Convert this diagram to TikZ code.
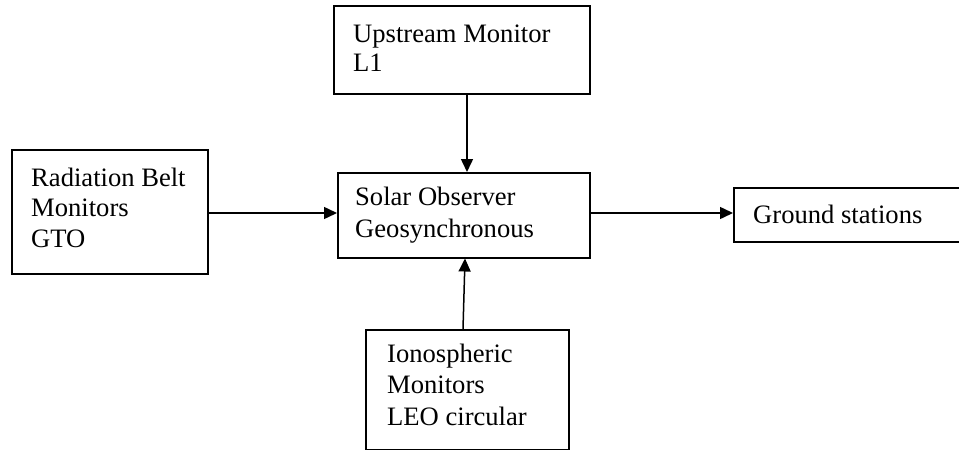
\documentclass[tikz,border=0pt]{standalone}
\usepackage{fontspec}
\setmainfont{Liberation Serif}
\usetikzlibrary{arrows.meta}
\begin{document}
\begin{tikzpicture}[x=1pt,y=-1pt,
  box/.style={draw=black, line width=1.5pt, rectangle, inner sep=0pt, anchor=north west},
  lbl/.style={anchor=base west, inner sep=0pt, font=\fontsize{26.6}{30}\selectfont},
  arr/.style={line width=1.5pt, -{Triangle[length=13pt,width=12pt]}}]
\useasboundingbox (0,0) rectangle (959,450);
% boxes
\node[box, minimum width=256pt, minimum height=88pt] (up) at (333,5) {};
\node[box, minimum width=196pt, minimum height=124pt] (rad) at (11,149) {};
\node[box, minimum width=252pt, minimum height=85pt] (sol) at (337,172) {};
\node[box, minimum width=229pt, minimum height=54pt] (gnd) at (733,187) {};
\node[box, minimum width=203pt, minimum height=120pt] (ion) at (365,329) {};
% texts
\node[lbl] (up1) at (353,42) {Upstream Monitor};
\node[lbl] (up2) at (353,71) {L1};
\node[lbl] (rad1) at (31,186) {Radiation Belt};
\node[lbl] (rad2) at (31,216) {Monitors};
\node[lbl] (rad3) at (31,247) {GTO};
\node[lbl] (sol1) at (355,205) {Solar Observer};
\node[lbl] (sol2) at (355,237) {Geosynchronous};
\node[lbl] (gnd1) at (753,223) {Ground stations};
\node[lbl] (ion1) at (387,362) {Ionospheric};
\node[lbl] (ion2) at (387,393) {Monitors};
\node[lbl] (ion3) at (387,425) {LEO circular};
% connectors
\draw[arr] (up.south -| 467,0) -- (sol.north -| 467,0);
\draw[arr] (rad.east |- 0,213) -- (sol.west |- 0,213);
\draw[arr] (sol.east |- 0,213) -- (gnd.west |- 0,213);
\draw[arr] (ion.north -| 463,0) -- (sol.south -| 465,0);
\end{tikzpicture}
\end{document}
